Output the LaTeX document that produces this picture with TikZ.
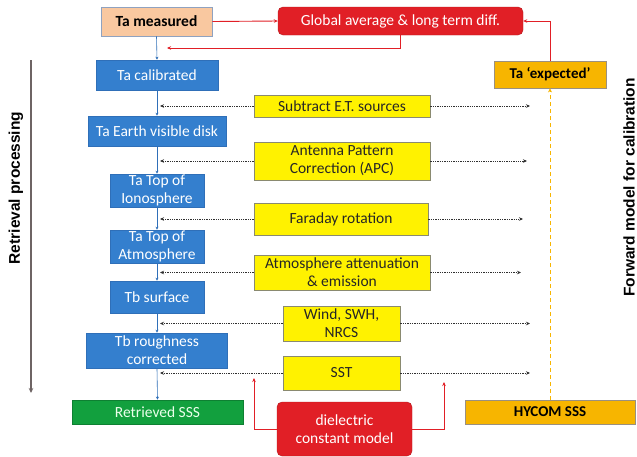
\documentclass[tikz,border=0pt]{standalone}
\usepackage{fontspec}
\setmainfont{Carlito}
\newfontfamily\sidefont{Liberation Sans}
\usetikzlibrary{arrows.meta}
\definecolor{cPeach}{HTML}{F9C8A0}
\definecolor{cPeachLine}{HTML}{8FA2C0}
\definecolor{cRed}{HTML}{E11F26}
\definecolor{cBlue}{HTML}{347FCE}
\definecolor{cBlueLine}{HTML}{2F6FB8}
\definecolor{cGreen}{HTML}{12A03E}
\definecolor{cYellow}{HTML}{FFF200}
\definecolor{cYellowLine}{HTML}{8A8A70}
\definecolor{cOrange}{HTML}{F7B500}
\definecolor{cOrangeLine}{HTML}{9A9080}
\definecolor{cAxis}{HTML}{6E6464}
\definecolor{cDot}{HTML}{303030}
\tikzset{
  base/.style={inner sep=0pt, align=center, font=\fontsize{15.5}{18}\selectfont},
  measbox/.style={base, fill=cPeach, draw=cPeachLine, line width=0.8pt, font=\fontsize{15.5}{18}\selectfont\bfseries},
  redbox/.style={base, fill=cRed, draw=cRed!80!black, rounded corners=5pt, text=white},
  bluestep/.style={base, fill=cBlue, draw=cBlueLine, line width=0.6pt, text=white},
  greenbox/.style={base, fill=cGreen, draw=cGreen!80!black, line width=0.6pt, text=white!92!green},
  yellowbox/.style={base, fill=cYellow, draw=cYellowLine, line width=0.8pt, text=black!85},
  orangebox/.style={base, fill=cOrange, draw=cOrangeLine, line width=0.8pt, font=\fontsize{15}{18}\selectfont\bfseries},
  flowline/.style={cBlueLine, line width=0.6pt, -{Stealth[length=3pt,width=3pt]}},
  dotarrow/.style={cDot, line width=0.7pt, dash pattern=on 1.3pt off 1pt, -{Stealth[length=4pt,width=3.5pt]}},
  redarrow/.style={cRed, line width=0.9pt, -{Stealth[length=4pt,width=3.5pt]}},
  orangedash/.style={cOrange, line width=1pt, dash pattern=on 4pt off 3pt, -{Stealth[length=4pt,width=4pt]}},
  sidelabel/.style={font=\sidefont\fontsize{15.5}{17}\selectfont\bfseries, text=black},
}
\begin{document}
\begin{tikzpicture}[x=1pt,y=-1pt]
\useasboundingbox[fill=white] (0,0) rectangle (637,456);

% top row
\node[measbox, minimum width=111pt, minimum height=29pt] (tam) at (156.5,21.5) {Ta measured};
\node[redbox, minimum width=245pt, minimum height=28pt] (glob) at (400.5,21) {Global average \& long term diff.};
\node[orangebox, minimum width=112pt, minimum height=27pt] (taexp) at (550,74.5) {Ta ‘expected’};
\node[orangebox, minimum width=170pt, minimum height=24pt] (hycom) at (550,412) {HYCOM SSS};

% retrieval chain
\node[bluestep, minimum width=122pt, minimum height=30pt] (cal) at (157,75) {Ta calibrated};
\node[bluestep, minimum width=138pt, minimum height=30pt] (earth) at (157,131) {Ta Earth visible disk};
\node[bluestep, minimum width=94pt, minimum height=33pt] (iono) at (157,190.5) {Ta Top of\\Ionosphere};
\node[bluestep, minimum width=94pt, minimum height=33pt] (atm) at (157,246.5) {Ta Top of\\Atmosphere};
\node[bluestep, minimum width=94pt, minimum height=32pt] (surf) at (157,297) {Tb surface};
\node[bluestep, minimum width=141pt, minimum height=35pt] (rough) at (157,350.5) {Tb roughness\\corrected};
\node[greenbox, minimum width=171pt, minimum height=24pt] (sss) at (157.5,412) {Retrieved SSS};

% corrections
\node[yellowbox, minimum width=176pt, minimum height=22pt] (c1) at (342,106) {Subtract E.T. sources};
\node[yellowbox, minimum width=176pt, minimum height=38pt] (c2) at (342,161) {Antenna Pattern\\Correction (APC)};
\node[yellowbox, minimum width=174pt, minimum height=32pt] (c3) at (341,219) {Faraday rotation};
\node[yellowbox, minimum width=176pt, minimum height=35pt] (c4) at (342,272.5) {Atmosphere attenuation\\\& emission};
\node[yellowbox, minimum width=117pt, minimum height=35pt] (c5) at (341.5,323.5) {Wind, SWH,\\NRCS};
\node[yellowbox, minimum width=117pt, minimum height=34pt] (c6) at (341.5,373) {SST};
\node[redbox, minimum width=135pt, minimum height=54pt] (diel) at (344.5,429) {dielectric\\constant model};

% side labels
\node[sidelabel, rotate=90] (lret) at (16,188) {Retrieval processing};
\node[sidelabel, rotate=90] (lfwd) at (629,187.5) {Forward model for calibration};
\coordinate (axtop) at (31,60);
\coordinate (axbot) at (31,393);
\draw[cAxis, line width=1.4pt, -{Stealth[length=5pt,width=4.5pt]}] (axtop) -- (axbot);

% retrieval chain links
\draw[flowline] (tam.south) -- (cal.north);
\draw[flowline] (cal.south) -- (earth.north);
\draw[flowline] (earth.south) -- (iono.north);
\draw[flowline] (iono.south) -- (atm.north);
\draw[flowline] (atm.south) -- (surf.north);
\draw[flowline] (surf.south) -- (rough.north);
\draw[flowline] (rough.south) -- (sss.north);

% corrections applied to the chain and to the forward model
\foreach \c in {c1,c2,c3,c4,c5,c6}{
  \draw[dotarrow] (\c.west) -- ([xshift=3pt]\c.west -| cal.south);
}
\draw[dotarrow] (c1.east) -- ([xshift=-20pt]c1.east -| taexp.south);
\draw[dotarrow] (c2.east) -- ([xshift=-23pt]c2.east -| taexp.south);
\draw[dotarrow] (c3.east) -- ([xshift=-27pt]c3.east -| taexp.south);
\draw[dotarrow] (c4.east) -- ([xshift=-29pt]c4.east -| taexp.south);
\draw[dotarrow] (c5.east) -- ([xshift=-20pt]c5.east -| taexp.south);
\draw[dotarrow] (c6.east) -- ([xshift=-20pt]c6.east -| taexp.south);

% calibration loop
\coordinate (fb) at (167,48);
\draw[redarrow] (tam.east) -- (glob.west);
\draw[redarrow] (glob.south) |- (fb);
\draw[redarrow] (taexp.north) |- (glob.east);
\draw[orangedash] (hycom.north) -- (taexp.south);

% dielectric model feeds
\coordinate (dl) at (254,378);
\coordinate (dr) at (444,382);
\draw[redarrow] (diel.west) -| (dl);
\draw[redarrow] (diel.east) -| (dr);
\end{tikzpicture}
\end{document}
